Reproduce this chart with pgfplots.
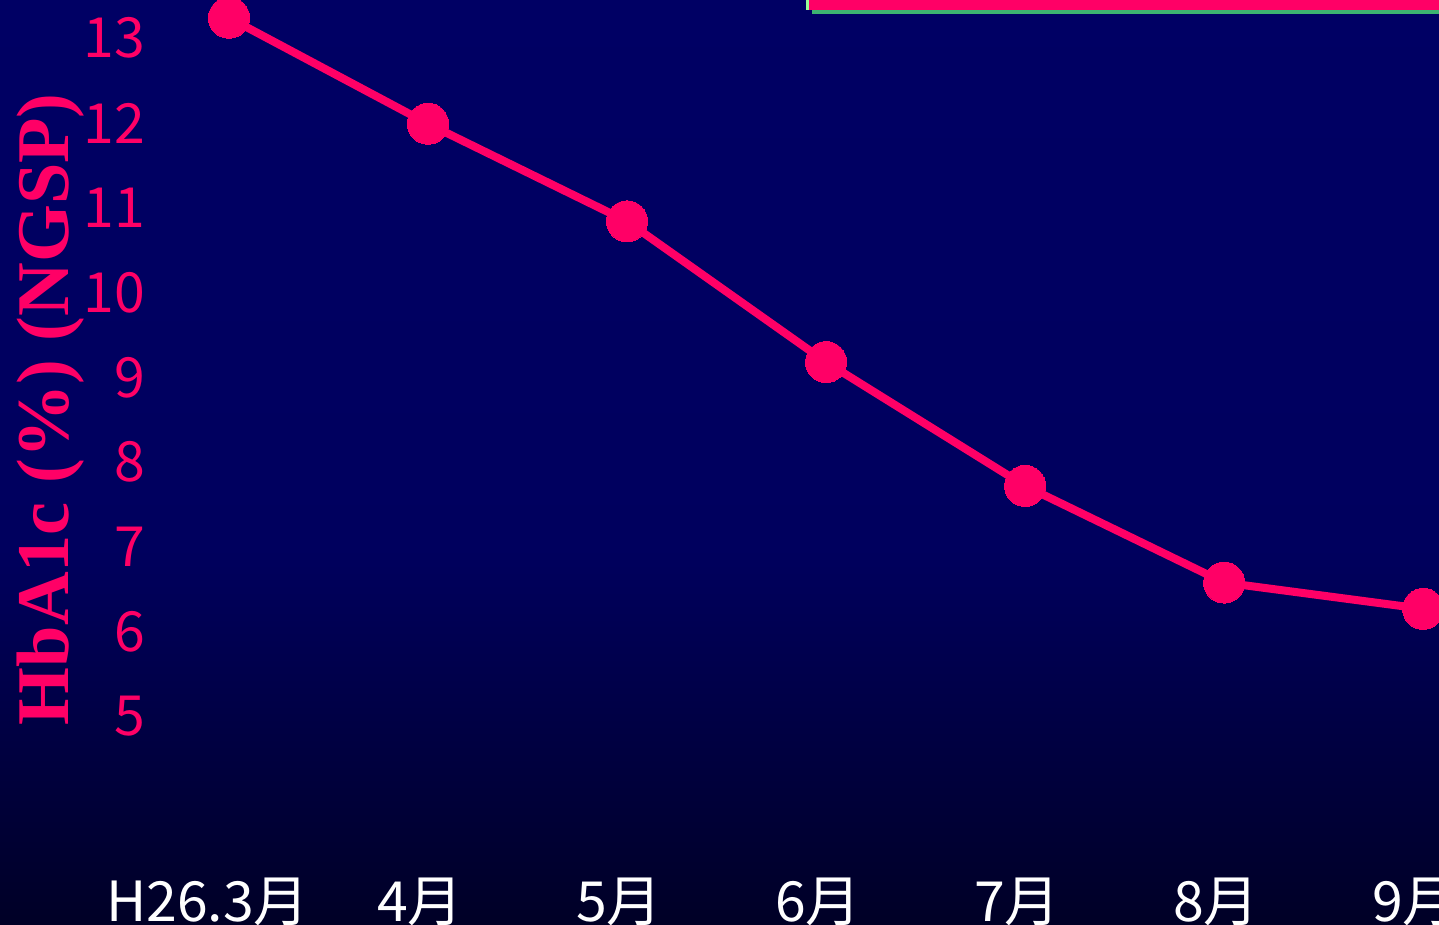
\documentclass[border=0pt]{standalone}
\usepackage{fontspec}
\setmainfont{Noto Sans CJK JP}
\newfontfamily\labelfont{Liberation Serif}
\usepackage{pgfplots}
\pgfplotsset{compat=1.18}

\definecolor{hbpink}{HTML}{FF0066}
\definecolor{bgtop}{HTML}{000064}
\definecolor{bgmid}{HTML}{00005E}
\definecolor{bgbot}{HTML}{000026}
\definecolor{barline}{HTML}{3CB371}
\definecolor{baredge}{HTML}{98FB98}

\begin{document}
\begin{tikzpicture}
\useasboundingbox (0,0) rectangle (431.7pt,277.5pt);
\clip (0,0) rectangle (431.7pt,277.5pt);
% background
\shade[top color=bgtop, bottom color=bgmid] (0,112.5pt) rectangle (431.7pt,277.5pt);
\shade[top color=bgmid, bottom color=bgbot] (0,0) rectangle (431.7pt,112.6pt);
% cut-off bar at the top
\fill[baredge] (241.8pt,274.5pt) rectangle (243pt,277.5pt);
\fill[barline] (243.5pt,273.4pt) rectangle (431.7pt,274.6pt);
\fill[hbpink] (242.7pt,274.5pt) rectangle (431.7pt,277.5pt);

\begin{axis}[
    scale only axis,
    width=386.9pt, height=259.5pt,
    at={(44.82pt,18pt)}, anchor=south west,
    xmin=-0.4, xmax=6.08,
    ymin=3.25, ymax=13.45,
    axis line style={draw=none},
    tick style={draw=none},
    xtick={0,...,6},
    xticklabels={H26.3月\hspace*{8pt}, 4月, 5月, 6月, 7月, 8月, 9月},
    ytick={5,...,13},
    /pgf/number format/assume math mode=true,
    xticklabel style={font=\fontsize{16.6}{20}\selectfont, text=white,
        anchor=base, inner sep=0pt, yshift=-17.1pt, xshift=-2.4pt},
    yticklabel style={font=\fontsize{16.6}{20}\selectfont, text=hbpink,
        anchor=east, inner sep=0pt, xshift=-1.2pt},
    ylabel={HbA1c (\%) (NGSP)},
    ylabel style={font=\labelfont\bfseries\fontsize{22.3}{26}\selectfont,
        text=hbpink, at={(axis description cs:-0.0631,0.527)}, anchor=base},
]
\addplot[hbpink, line width=2.4pt, mark=*, mark size=6.15pt,
    mark options={fill=hbpink, draw=hbpink, line width=0pt}] coordinates {
    (0,13.24) (1,11.99) (2,10.84) (3,9.18) (4,7.72) (5,6.58) (6,6.27)
};
\end{axis}
\end{tikzpicture}
\end{document}
